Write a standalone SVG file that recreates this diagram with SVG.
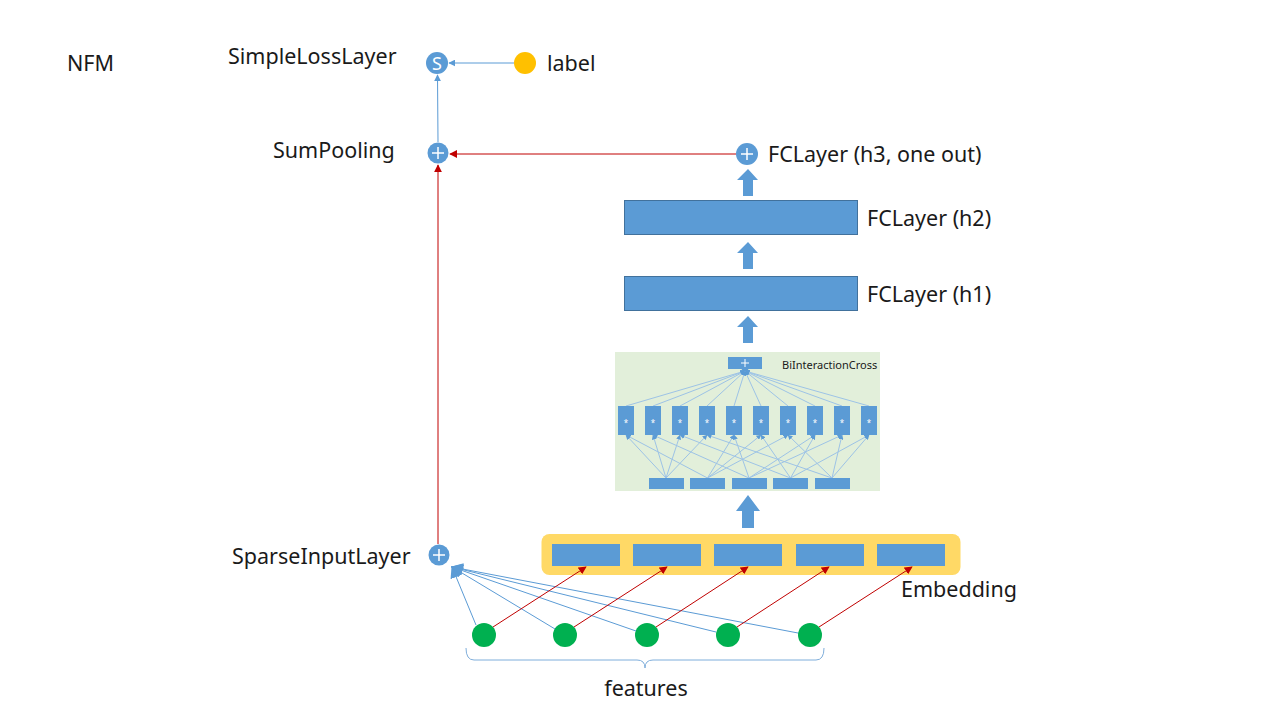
<svg xmlns="http://www.w3.org/2000/svg" width="1280" height="720" viewBox="0 0 1280 720">
<defs>
<marker id="ab" viewBox="0 0 10 10" refX="9" refY="5" markerWidth="7" markerHeight="7" orient="auto" markerUnits="userSpaceOnUse"><path d="M0,0 L10,5 L0,10 z" fill="#5B9BD5"/></marker>
<marker id="ar" viewBox="0 0 10 10" refX="9" refY="5" markerWidth="8" markerHeight="8" orient="auto" markerUnits="userSpaceOnUse"><path d="M0,0 L10,5 L0,10 z" fill="#C00000"/></marker>
<marker id="al" viewBox="0 0 10 10" refX="9" refY="5" markerWidth="5" markerHeight="5" orient="auto" markerUnits="userSpaceOnUse"><path d="M0,0 L10,5 L0,10 z" fill="#5B9BD5"/></marker>
<marker id="abig" viewBox="0 0 10 10" refX="9" refY="5" markerWidth="12" markerHeight="12" orient="auto" markerUnits="userSpaceOnUse"><path d="M0,0 L10,5 L0,10 z" fill="#5B9BD5"/></marker>
</defs>
<style>
text{font-family:"Noto Sans","Liberation Sans",sans-serif;fill:#1a1a1a;font-size:21.5px}
.node{fill:#5B9BD5}
.bar{fill:#5B9BD5;stroke:#41719C;stroke-width:1}
.plus{stroke:#fff;stroke-width:1.5}
.bl{stroke:#5B9BD5;stroke-width:1;fill:none}
.rd{stroke:#C00000;stroke-width:1;fill:none}
.il{stroke:#9DC3E6;stroke-width:1;fill:none}
.feat{fill:#00B050}
.blk{fill:#5B9BD5}
.sm{font-size:8px;fill:#fff}
</style>
<rect width="1280" height="720" fill="#fff"/>
<text x="67" y="71">NFM</text>

<g id="loss">
<circle cx="437" cy="63" r="11" class="node"/>
<text x="437" y="70" text-anchor="middle" style="fill:#fff;font-size:18px">S</text>
<text x="228" y="64">SimpleLossLayer</text>
</g>
<g id="label">
<circle cx="525" cy="63" r="11" fill="#FFC000"/>
<text x="547" y="71">label</text>
</g>
<g id="sumpooling">
<circle cx="438" cy="153" r="10.5" class="node"/>
<path d="M432,153 h12 M438,147 v12" class="plus"/>
<text x="273" y="158">SumPooling</text>
</g>
<g id="fc3">
<circle cx="747" cy="154" r="11" class="node"/>
<path d="M741,154 h12 M747,148 v12" class="plus"/>
<text x="768" y="162">FCLayer (h3, one out)</text>
</g>
<g id="fc2">
<rect x="624.5" y="200.5" width="233" height="34" class="bar"/>
<text x="867" y="226">FCLayer (h2)</text>
</g>
<g id="fc1">
<rect x="624.5" y="276.5" width="233" height="34" class="bar"/>
<text x="867" y="302">FCLayer (h1)</text>
</g>

<g id="bicross">
<rect x="615" y="352" width="265" height="139" fill="#E2EFDA"/>
<text x="782" y="369" style="font-size:11px">BiInteractionCross</text>
<g class="il">
<line x1="666" y1="478" x2="626" y2="435" marker-end="url(#al)"/>
<line x1="707.5" y1="478" x2="626" y2="435" marker-end="url(#al)"/>
<line x1="666" y1="478" x2="653" y2="435" marker-end="url(#al)"/>
<line x1="749" y1="478" x2="653" y2="435" marker-end="url(#al)"/>
<line x1="666" y1="478" x2="680" y2="435" marker-end="url(#al)"/>
<line x1="790.5" y1="478" x2="680" y2="435" marker-end="url(#al)"/>
<line x1="666" y1="478" x2="707" y2="435" marker-end="url(#al)"/>
<line x1="832" y1="478" x2="707" y2="435" marker-end="url(#al)"/>
<line x1="707.5" y1="478" x2="734" y2="435" marker-end="url(#al)"/>
<line x1="749" y1="478" x2="734" y2="435" marker-end="url(#al)"/>
<line x1="707.5" y1="478" x2="761" y2="435" marker-end="url(#al)"/>
<line x1="790.5" y1="478" x2="761" y2="435" marker-end="url(#al)"/>
<line x1="707.5" y1="478" x2="788" y2="435" marker-end="url(#al)"/>
<line x1="832" y1="478" x2="788" y2="435" marker-end="url(#al)"/>
<line x1="749" y1="478" x2="815" y2="435" marker-end="url(#al)"/>
<line x1="790.5" y1="478" x2="815" y2="435" marker-end="url(#al)"/>
<line x1="749" y1="478" x2="842" y2="435" marker-end="url(#al)"/>
<line x1="832" y1="478" x2="842" y2="435" marker-end="url(#al)"/>
<line x1="790.5" y1="478" x2="869" y2="435" marker-end="url(#al)"/>
<line x1="832" y1="478" x2="869" y2="435" marker-end="url(#al)"/>
<line x1="626" y1="406" x2="745" y2="371" marker-end="url(#al)"/>
<line x1="653" y1="406" x2="745" y2="371" marker-end="url(#al)"/>
<line x1="680" y1="406" x2="745" y2="371" marker-end="url(#al)"/>
<line x1="707" y1="406" x2="745" y2="371" marker-end="url(#al)"/>
<line x1="734" y1="406" x2="745" y2="371" marker-end="url(#al)"/>
<line x1="761" y1="406" x2="745" y2="371" marker-end="url(#al)"/>
<line x1="788" y1="406" x2="745" y2="371" marker-end="url(#al)"/>
<line x1="815" y1="406" x2="745" y2="371" marker-end="url(#al)"/>
<line x1="842" y1="406" x2="745" y2="371" marker-end="url(#al)"/>
<line x1="869" y1="406" x2="745" y2="371" marker-end="url(#al)"/>
</g>
<rect x="728" y="357" width="34" height="12" class="node"/>
<circle cx="745" cy="368" r="3.5" class="node"/>
<path d="M741,363 h8 M745,359 v8" class="plus" style="stroke-width:1"/>
<g class="node">
<rect x="618" y="406" width="16" height="29"/>
<rect x="645" y="406" width="16" height="29"/>
<rect x="672" y="406" width="16" height="29"/>
<rect x="699" y="406" width="16" height="29"/>
<rect x="726" y="406" width="16" height="29"/>
<rect x="753" y="406" width="16" height="29"/>
<rect x="780" y="406" width="16" height="29"/>
<rect x="807" y="406" width="16" height="29"/>
<rect x="834" y="406" width="16" height="29"/>
<rect x="861" y="406" width="16" height="29"/>
</g>
<g text-anchor="middle">
<text x="626" y="426" class="sm">*</text>
<text x="653" y="426" class="sm">*</text>
<text x="680" y="426" class="sm">*</text>
<text x="707" y="426" class="sm">*</text>
<text x="734" y="426" class="sm">*</text>
<text x="761" y="426" class="sm">*</text>
<text x="788" y="426" class="sm">*</text>
<text x="815" y="426" class="sm">*</text>
<text x="842" y="426" class="sm">*</text>
<text x="869" y="426" class="sm">*</text>
</g>
<g class="node">
<rect x="649" y="478" width="35" height="11"/>
<rect x="690" y="478" width="35" height="11"/>
<rect x="732" y="478" width="35" height="11"/>
<rect x="773" y="478" width="35" height="11"/>
<rect x="815" y="478" width="35" height="11"/>
</g>
</g>

<g id="embedding">
<rect x="541.5" y="534" width="419" height="41" rx="8" fill="#FFD966"/>
<g class="node">
<rect x="552" y="544" width="68" height="22"/>
<rect x="633" y="544" width="68" height="22"/>
<rect x="714" y="544" width="68" height="22"/>
<rect x="796" y="544" width="68" height="22"/>
<rect x="877" y="544" width="68" height="22"/>
</g>
<text x="901" y="597">Embedding</text>
</g>
<g id="sparse">
<circle cx="439" cy="555" r="10.5" class="node"/>
<path d="M433,555 h12 M439,549 v12" class="plus"/>
<text x="232" y="564">SparseInputLayer</text>
</g>
<g id="features">
<circle cx="484" cy="635" r="12" class="feat"/>
<circle cx="565" cy="635" r="12" class="feat"/>
<circle cx="647" cy="635" r="12" class="feat"/>
<circle cx="728" cy="635" r="12" class="feat"/>
<circle cx="810" cy="635" r="12" class="feat"/>
<path d="M466,648 q0,12 8,12 H637 q8,0 8,8 q0,-8 8,-8 H816 q8,0 8,-12" class="il" style="stroke:#7FAEDB"/>
<text x="646" y="696" text-anchor="middle">features</text>
</g>

<g id="connectors">
<line x1="514" y1="63" x2="449" y2="63" class="bl" marker-end="url(#ab)"/>
<line x1="438" y1="142" x2="437.5" y2="75" class="bl" marker-end="url(#ab)"/>
<line x1="736" y1="154" x2="450" y2="154" class="rd" marker-end="url(#ar)"/>
<line x1="438" y1="544" x2="438" y2="165" class="rd" marker-end="url(#ar)"/>
<path d="M743,196 V180 H737 L748,169 L758,180 H753 V196 Z" class="blk"/>
<path d="M743,269 V253 H737 L748,242 L758,253 H753 V269 Z" class="blk"/>
<path d="M743,343 V327 H737 L748,316 L758,327 H753 V343 Z" class="blk"/>
<path d="M742,528 V511 H736 L748,495 L760,511 H754 V528 Z" class="blk"/>
<line x1="476" y1="625" x2="452" y2="567" class="bl" marker-end="url(#abig)"/>
<line x1="555" y1="629" x2="452" y2="567" class="bl" marker-end="url(#abig)"/>
<line x1="636" y1="631" x2="452" y2="567" class="bl" marker-end="url(#abig)"/>
<line x1="716" y1="632" x2="452" y2="567" class="bl" marker-end="url(#abig)"/>
<line x1="798" y1="633" x2="452" y2="567" class="bl" marker-end="url(#abig)"/>
<line x1="493" y1="627" x2="586" y2="567" class="rd" marker-end="url(#ar)"/>
<line x1="574" y1="627" x2="667" y2="567" class="rd" marker-end="url(#ar)"/>
<line x1="656" y1="627" x2="748" y2="567" class="rd" marker-end="url(#ar)"/>
<line x1="737" y1="627" x2="829" y2="567" class="rd" marker-end="url(#ar)"/>
<line x1="819" y1="627" x2="912" y2="567" class="rd" marker-end="url(#ar)"/>
</g>
</svg>
